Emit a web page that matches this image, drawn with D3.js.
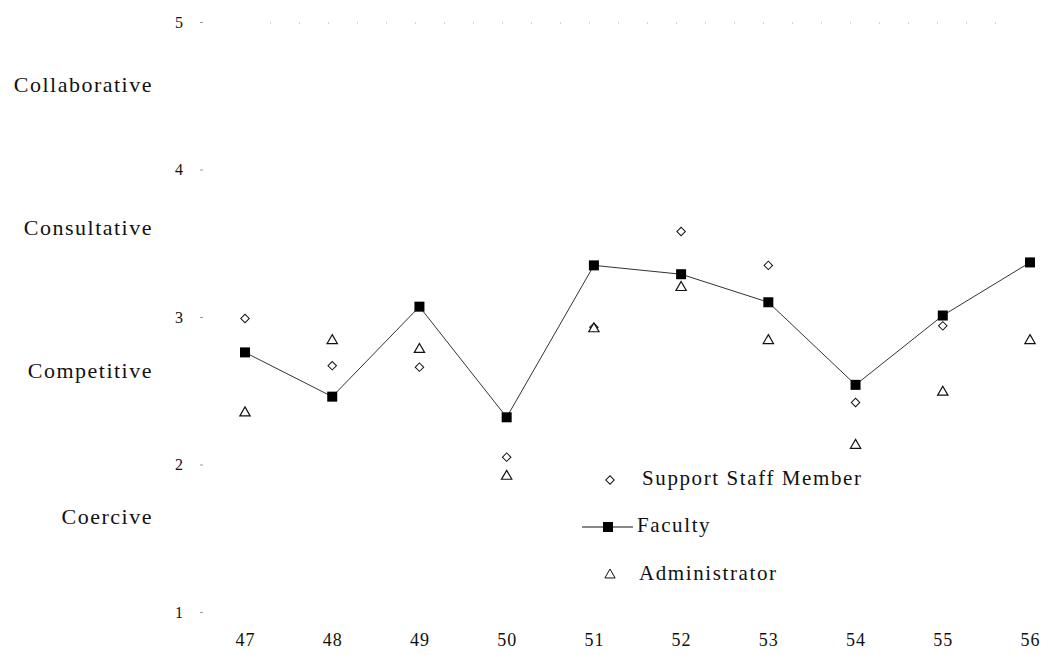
<!DOCTYPE html>
<html>
<head>
<meta charset="utf-8">
<script src="https://cdn.jsdelivr.net/npm/d3@7"></script>
<style>
  html, body { margin: 0; padding: 0; background: #fff; }
  svg { display: block; }
  text { font-family: "Liberation Serif", "Times New Roman", serif; fill: #111; }
</style>
</head>
<body>
<script>
// ---- data ----
const categories = ["47", "48", "49", "50", "51", "52", "53", "54", "55", "56"];
const supportStaff = [2.99, 2.67, 2.66, 2.05, 2.93, 3.58, 3.35, 2.42, 2.94, 3.37];
const faculty      = [2.76, 2.46, 3.07, 2.32, 3.35, 3.29, 3.10, 2.54, 3.01, 3.37];
const administrator= [2.35, 2.84, 2.78, 1.92, 2.92, 3.20, 2.84, 2.13, 2.49, 2.84];
const yTicks = [1, 2, 3, 4, 5];
const styleLabels = ["Coercive", "Competitive", "Consultative", "Collaborative"];
const styleLabelValues = [1.63, 2.62, 3.59, 4.56];
const seriesNames = ["Support Staff Member", "Faculty", "Administrator"];

// ---- layout ----
const W = 1044, H = 655;
const svg = d3.select("body").append("svg").attr("width", W).attr("height", H);

const x = d3.scalePoint().domain(categories).range([245, 1030]);
const y = d3.scaleLinear().domain([1, 5]).range([612, 22]);

// faint remnant line at top
svg.append("line")
  .attr("x1", 270).attr("x2", 1000)
  .attr("y1", y(5) + 1).attr("y2", y(5) + 1)
  .attr("stroke", "#aaa").attr("stroke-width", 1)
  .attr("stroke-dasharray", "1,28");

// y axis
const yAxis = d3.axisLeft(y).tickValues(yTicks).tickFormat(d3.format("d"))
  .tickSize(3).tickPadding(17);
const gy = svg.append("g").attr("transform", "translate(203,0)").call(yAxis);
gy.select(".domain").remove();
gy.selectAll(".tick line").attr("stroke", "#999");
gy.selectAll(".tick text").style("font-size", "16px")
  .style("font-family", "'Liberation Serif', serif").attr("fill", "#222");

// style labels (between ticks)
svg.append("g").selectAll("text").data(styleLabels).join("text")
  .attr("x", 153)
  .attr("y", (d, i) => y(styleLabelValues[i]))
  .attr("text-anchor", "end")
  .attr("dominant-baseline", "middle")
  .style("font-size", "22px")
  .style("letter-spacing", "1.5px")
  .text(d => d);

// x axis
const xAxis = d3.axisBottom(x).tickSize(0).tickPadding(0);
const gx = svg.append("g").attr("transform", "translate(0,633)").call(xAxis);
gx.select(".domain").remove();
gx.selectAll(".tick text").style("font-size", "18px")
  .style("letter-spacing", "1px")
  .style("font-family", "'Liberation Serif', serif").attr("fill", "#222");

// faculty line
const line = d3.line().x((d, i) => x(categories[i])).y(d => y(d));
svg.append("path").datum(faculty)
  .attr("d", line)
  .attr("fill", "none")
  .attr("stroke", "#333")
  .attr("stroke-width", 1);

const diamond = d3.symbol().type(d3.symbolSquare).size(36);
const triangle = d3.symbol().type(d3.symbolTriangle).size(46);

// support staff diamonds
svg.append("g").selectAll("path").data(supportStaff).join("path")
  .attr("d", diamond)
  .attr("transform", (d, i) => `translate(${x(categories[i])},${y(d)}) rotate(45)`)
  .attr("fill", "#fff").attr("stroke", "#111").attr("stroke-width", 1);

// administrator triangles
svg.append("g").selectAll("path").data(administrator).join("path")
  .attr("d", triangle)
  .attr("transform", (d, i) => `translate(${x(categories[i])},${y(d)})`)
  .attr("fill", "#fff").attr("stroke", "#111").attr("stroke-width", 1.2);

// faculty squares
svg.append("g").selectAll("rect").data(faculty).join("rect")
  .attr("x", (d, i) => x(categories[i]) - 5)
  .attr("y", d => y(d) - 5)
  .attr("width", 10).attr("height", 10)
  .attr("fill", "#000");

// legend
const lg = svg.append("g");
const rows = [480, 527, 575];
// support staff
lg.append("path").attr("d", diamond)
  .attr("transform", `translate(610,${rows[0]}) rotate(45)`)
  .attr("fill", "#fff").attr("stroke", "#111");
// faculty
lg.append("line").attr("x1", 582).attr("x2", 633)
  .attr("y1", rows[1]).attr("y2", rows[1]).attr("stroke", "#111").attr("stroke-width", 1.2);
lg.append("rect").attr("x", 603).attr("y", rows[1] - 5)
  .attr("width", 10).attr("height", 10).attr("fill", "#000");
// administrator
lg.append("path").attr("d", triangle)
  .attr("transform", `translate(610,${rows[2]})`)
  .attr("fill", "#fff").attr("stroke", "#111");

const textX = [642, 637, 639];
lg.selectAll("text").data(seriesNames).join("text")
  .attr("x", (d, i) => textX[i])
  .attr("y", (d, i) => rows[i])
  .attr("dominant-baseline", "middle")
  .style("font-size", "21px")
  .style("letter-spacing", "1.6px")
  .text(d => d);
</script>
</body>
</html>
